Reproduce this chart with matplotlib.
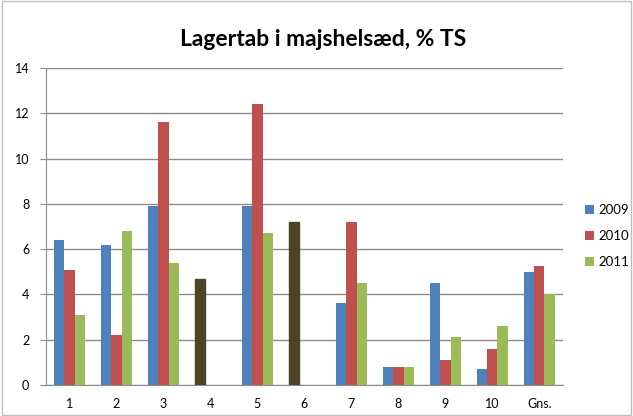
import numpy as np
import matplotlib
matplotlib.use("Agg")
import matplotlib.pyplot as plt
from matplotlib.patches import Rectangle

plt.rcParams['font.family'] = ['Lato', 'DejaVu Sans']

# data
categories = ["1", "2", "3", "4", "5", "6", "7", "8", "9", "10", "Gns."]
years = ["2009", "2010", "2011"]
v2009 = [6.4, 6.2, 7.9, 4.7, 7.9, 7.2, 3.6, 0.8, 4.5, 0.7, 4.99]
v2010 = [5.1, 2.2, 11.6, 0, 12.4, 0, 7.2, 0.8, 1.1, 1.6, 5.25]
v2011 = [3.1, 6.8, 5.4, 0, 6.7, 0, 4.5, 0.8, 2.1, 2.6, 4.0]
# points 4 and 6 have their own colour in the original
special_points = [3, 5]

colors = ["#4F81BD", "#C0504D", "#9BBB59"]
special_color = "#4A4527"

fig = plt.figure(figsize=(6.33, 4.16), dpi=100)
ax = fig.add_axes([0.0727, 0.0745, 0.8163, 0.762])

x = np.arange(len(categories))
w = 1 / 4.5
for i, (vals, c, lab) in enumerate(zip([v2009, v2010, v2011], colors, years)):
    bars = ax.bar(x + (i - 1) * w, vals, width=w, color=c, label=lab, zorder=3)
    if i == 0:
        for p in special_points:
            bars[p].set_color(special_color)

ax.set_xlim(-0.5, len(categories) - 0.5)
ax.set_ylim(0, 14)
ax.set_yticks(np.arange(0, 15, 2))
ax.set_xticks(x)
ax.set_xticklabels(categories)
ax.yaxis.grid(True, color="#8C8C8C", linewidth=1)
ax.set_axisbelow(True)
for s in ["top", "right"]:
    ax.spines[s].set_visible(False)
for s in ["left", "bottom"]:
    ax.spines[s].set_color("#8C8C8C")
ax.tick_params(axis="y", length=4, color="#8C8C8C", labelsize=9, pad=8)
ax.tick_params(axis="x", length=0, labelsize=9, pad=9)

fig.text(0.51, 0.905, "Lagertab i majshelsæd, % TS", ha="center", va="center",
         fontsize=16.5, fontweight="bold")

ax.legend(loc="center left", bbox_to_anchor=(1.02, 0.47), frameon=False,
          fontsize=9.5, handlelength=0.7, handleheight=0.7, handletextpad=0.3,
          labelspacing=1.05)

fig.patches.append(Rectangle((0.003, 0.003), 0.994, 0.994, transform=fig.transFigure,
                             fill=False, edgecolor="#BFBFBF", linewidth=1))

fig.savefig("out.png", dpi=100)
